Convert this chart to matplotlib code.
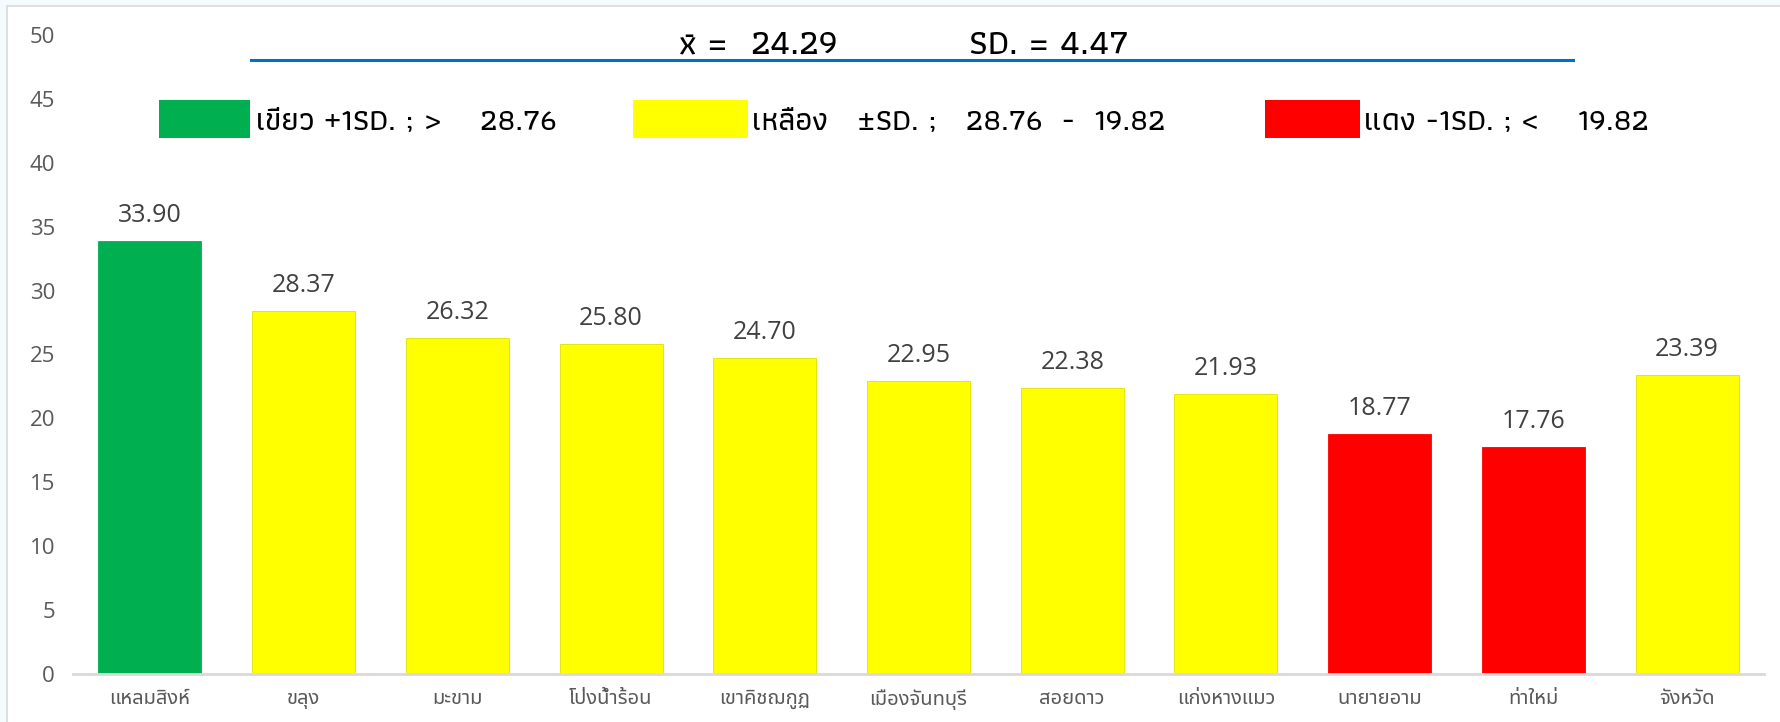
import matplotlib
matplotlib.use('Agg')
import matplotlib.pyplot as plt
import matplotlib.patches as mpatches
from matplotlib.lines import Line2D
import numpy as np

# districts (amphoe) and scores
districts = ['แหลมสิงห์', 'ขลุง', 'มะขาม', 'โป่งน้ำร้อน', 'เขาคิชฌกูฏ', 'เมืองจันทบุรี',
             'สอยดาว', 'แก่งหางแมว', 'นายายอาม', 'ท่าใหม่', 'จังหวัด']
scores = [33.90, 28.37, 26.32, 25.80, 24.70, 22.95, 22.38, 21.93, 18.77, 17.76, 23.39]
mean_val = 24.29
sd_val = 4.47
upper = 28.76
lower = 19.82

GREEN = '#00b050'
YELLOW = '#ffff00'
RED = '#ff0000'

def bar_color(v):
    if v > upper:
        return GREEN
    if v < lower:
        return RED
    return YELLOW

colors = [bar_color(v) for v in scores]
edges = ['#e0e000' if c == YELLOW else c for c in colors]

W, H = 1781, 722
fig = plt.figure(figsize=(W / 100, H / 100), dpi=100)
fig.patch.set_facecolor('#f4fbfc')

# white chart area with a light border
fig.patches.append(mpatches.Rectangle((7 / W, -0.01), 1.0, 1 - 6 / H + 0.01,
                                      transform=fig.transFigure, facecolor='white',
                                      edgecolor='#d9d9d9', linewidth=1.2, zorder=-5))

ax = fig.add_axes([73 / W, 1 - 674 / H, (1764 - 73) / W, (674 - 35) / H])
ax.set_facecolor('none')
x = np.arange(len(districts))
ax.bar(x, scores, width=0.67, color=colors, edgecolor=edges, linewidth=0.6, zorder=2)

for xi, v in zip(x, scores):
    ax.annotate('%.2f' % v, (xi, v), xytext=(0, 13.7), textcoords='offset points',
                ha='center', va='baseline', fontsize=18, color='#404040',
                family=['Open Sans', 'DejaVu Sans'])

ax.set_xlim(-0.5, len(districts) - 0.5)
ax.set_ylim(0, 50)
ax.set_yticks(range(0, 51, 5))
ax.set_xticks(x)
ax.set_xticklabels(districts, family=['Noto Sans Thai', 'DejaVu Sans'], fontsize=14.5, color='#595959')
ax.tick_params(axis='x', length=0, pad=11)
ax.tick_params(axis='y', length=0, pad=13, labelsize=16, labelcolor='#595959')
for lbl in ax.get_yticklabels():
    lbl.set_family(['Open Sans', 'DejaVu Sans'])
for s in ['top', 'right', 'left']:
    ax.spines[s].set_visible(False)
ax.spines['bottom'].set_color('#d9d9d9')
ax.spines['bottom'].set_linewidth(2)

# header: mean and SD with the blue rule underneath
hfont = ['Athiti', 'DejaVu Sans']
base = 1 - 54 / H
fig.text(679 / W, base, 'x\u0304 =', fontsize=26, family=hfont, weight='medium',
         ha='left', va='baseline', color='black')
fig.text(750 / W, base, '%.2f' % mean_val, fontsize=26, family=hfont, weight='medium',
         ha='left', va='baseline', color='black')
fig.text(969 / W, base, 'SD. = %.2f' % sd_val, fontsize=26, family=hfont, weight='medium',
         ha='left', va='baseline', color='black')
fig.lines.append(Line2D([251 / W, 1573 / W], [1 - 60 / H, 1 - 60 / H], transform=fig.transFigure,
                        color='#0070c0', linewidth=2.2))

# colour key
key = [
    (159, 91, GREEN, 256, 'เขียว +1SD. ; >    %.2f' % upper),
    (633, 115, YELLOW, 752, 'เหลือง   ±SD. ;   %.2f  -  %.2f' % (upper, lower)),
    (1265, 95, RED, 1364, 'แดง -1SD. ; <    %.2f' % lower),
]
for x0, w, c, tx, label in key:
    fig.patches.append(mpatches.Rectangle((x0 / W, 1 - 138 / H), w / W, 38 / H,
                                          transform=fig.transFigure, facecolor=c,
                                          edgecolor='none', zorder=3))
    fig.text(tx / W, 1 - 130 / H, label, fontsize=23, family=['Athiti', 'DejaVu Sans'],
             weight='medium', ha='left', va='baseline', color='black')

fig.savefig('out.png', dpi=100, facecolor=fig.get_facecolor())
